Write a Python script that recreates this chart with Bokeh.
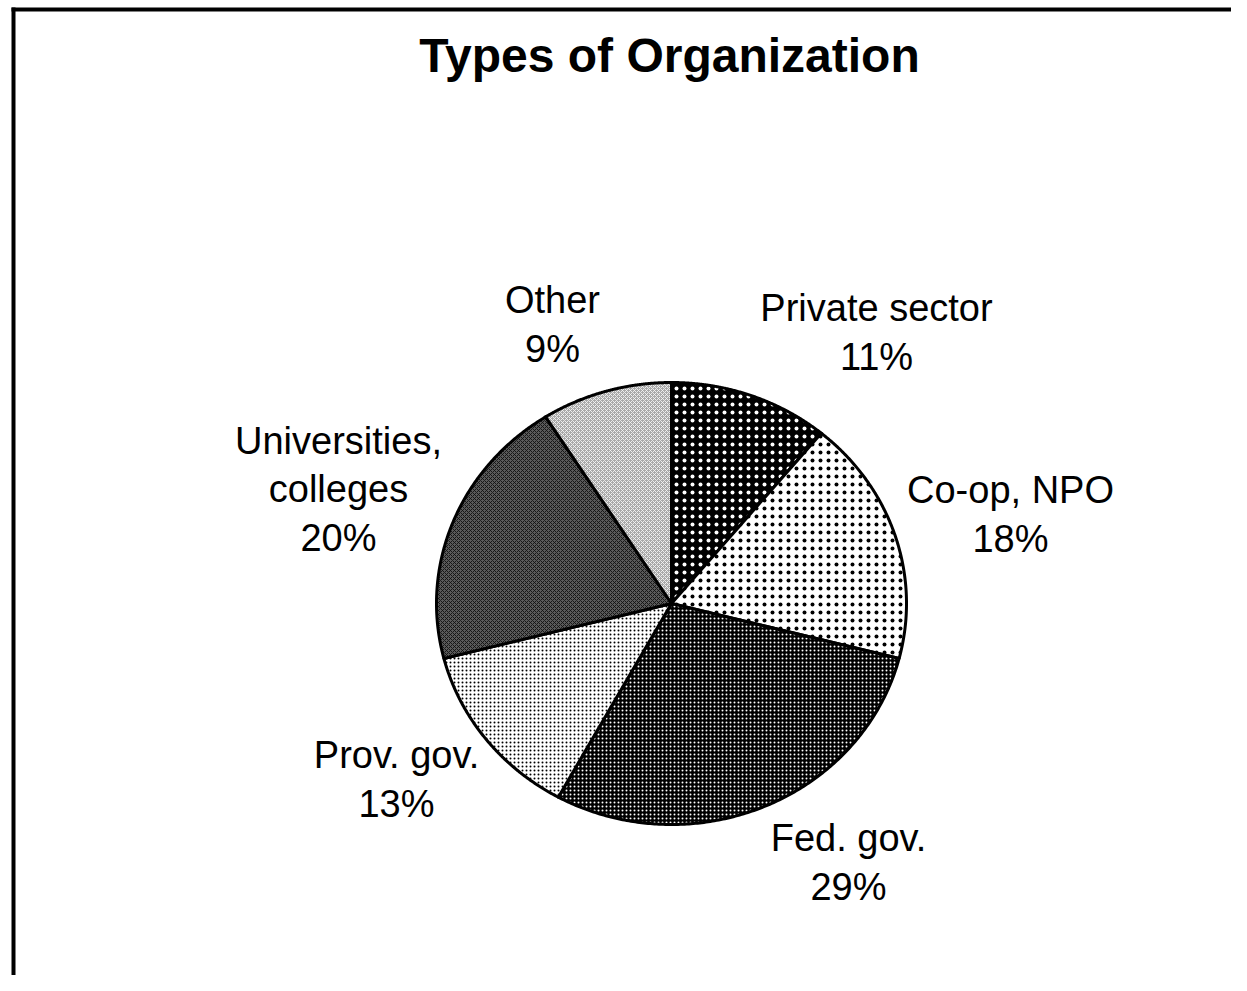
import numpy as np
from bokeh.plotting import figure
from bokeh.models import Range1d, ColumnDataSource
from bokeh.core.properties import value
from bokeh.embed import file_html
from bokeh.resources import INLINE

# ---- data ----
categories = ["Private sector", "Co-op, NPO", "Fed. gov.", "Prov. gov.", "Universities,\ncolleges", "Other"]
shares = [11, 18, 29, 13, 20, 9]
title = "Types of Organization"

# ---- styles ----
fills = ["#000000", "#ffffff", "#000000", "#ffffff", "#5a5a5a", "#a8a8a8"]
hatch_colors = ["#ffffff", "#000000", "#ffffff", "#000000", "#111111", "#f4f4f4"]
hatch_patterns = [".", ".", ".", ".", "x", "x"]
hatch_scales = [8, 8, 4, 4, 4, 4]
hatch_weights = [0.7, 0.7, 0.7, 0.9, 0.9, 0.9]

W, H = 1231, 975
cx, cy = 671, 603
rx, ry = 235, 221
# label block centers (canvas px)
label_pos = [(876, 332), (1010, 514), (848, 862), (396, 779), (338, 489), (552, 324)]

p = figure(width=W, height=H, output_backend="svg", toolbar_location=None,
           x_range=Range1d(0, W), y_range=Range1d(H, 0), min_border=0)
p.axis.visible = False
p.grid.visible = False
p.outline_line_color = None
p.background_fill_color = "white"
p.border_fill_color = "white"

total = float(sum(shares))
cum = np.concatenate([[0], np.cumsum(shares)]) / total * 2 * np.pi
for i in range(len(shares)):
    t = np.linspace(cum[i], cum[i + 1], 200)
    xs = np.concatenate([[cx], cx + rx * np.sin(t)])
    ys = np.concatenate([[cy], cy - ry * np.cos(t)])
    p.patch(xs, ys, fill_color=fills[i], line_color="black", line_width=3,
            line_join="round",
            hatch_pattern=hatch_patterns[i], hatch_color=hatch_colors[i],
            hatch_scale=hatch_scales[i], hatch_weight=hatch_weights[i])

labels = [f"{c}\n{s}%" for c, s in zip(categories, shares)]
src = ColumnDataSource(dict(x=[q[0] for q in label_pos], y=[q[1] for q in label_pos], text=labels))
p.text(x="x", y="y", text="text", source=src, text_align="center", text_baseline="middle",
       text_font=value("Liberation Sans"), text_font_size="38px", text_color="black",
       text_line_height=1.16)

p.text(x=[669], y=[55], text=[title], text_align="center", text_baseline="middle",
       text_font=value("Liberation Sans"), text_font_style="bold", text_font_size="48px",
       text_color="black")

# frame border (top and left visible)
p.line(x=[11, W], y=[9, 9], line_color="black", line_width=4)
p.line(x=[13, 13], y=[7, H], line_color="black", line_width=4)

open("out.html", "w").write(file_html(p, INLINE))
